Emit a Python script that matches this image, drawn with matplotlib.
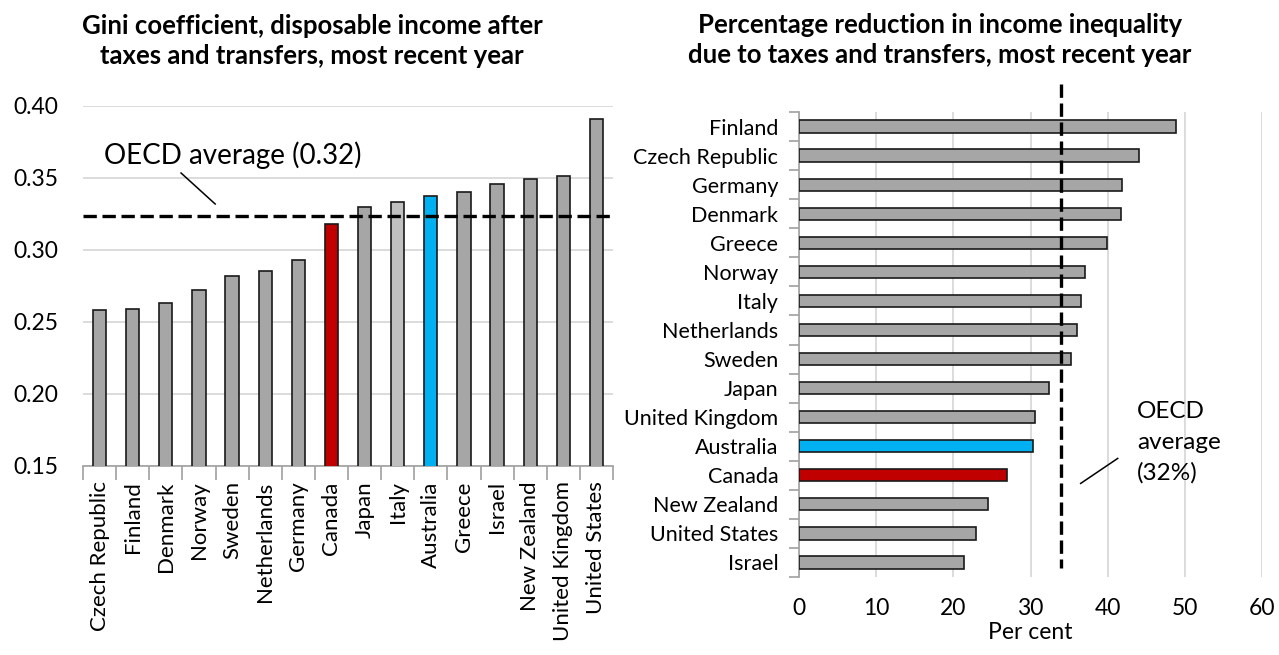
import matplotlib
matplotlib.use("Agg")
import matplotlib.pyplot as plt

plt.rcParams['font.family'] = ['Lato', 'DejaVu Sans']

# left panel: Gini coefficient after taxes and transfers
gini_countries = ['Czech Republic', 'Finland', 'Denmark', 'Norway', 'Sweden',
                  'Netherlands', 'Germany', 'Canada', 'Japan', 'Italy',
                  'Australia', 'Greece', 'Israel', 'New Zealand',
                  'United Kingdom', 'United States']
gini_values = [0.258, 0.259, 0.263, 0.272, 0.282, 0.285, 0.293, 0.318,
               0.330, 0.333, 0.337, 0.340, 0.346, 0.349, 0.351, 0.391]
oecd_gini = 0.3235

# right panel: % reduction in inequality
red_countries = ['Finland', 'Czech Republic', 'Germany', 'Denmark', 'Greece',
                 'Norway', 'Italy', 'Netherlands', 'Sweden', 'Japan',
                 'United Kingdom', 'Australia', 'Canada', 'New Zealand',
                 'United States', 'Israel']
red_values = [48.8, 44.0, 41.9, 41.7, 39.9, 37.0, 36.5, 36.0, 35.2, 32.4,
              30.6, 30.3, 27.0, 24.5, 22.9, 21.4]
oecd_red = 33.9

GRAY = '#a6a6a6'
LIGHT = '#c0c0c0'
RED = '#c00000'
BLUE = '#00b0f0'
GRID = '#d9d9d9'
AXIS = '#a0a0a0'


def color_for(name, light_ok=True):
    if name == 'Canada':
        return RED
    if name == 'Australia':
        return BLUE
    if name == 'Italy' and light_ok:
        return LIGHT
    return GRAY


fig = plt.figure(figsize=(12.79, 6.55), dpi=100)

# ---- left chart
ax1 = fig.add_axes([83 / 1279, 1 - 466 / 655, 530 / 1279, 360.3 / 655])
x = range(len(gini_countries))
ax1.bar(x, gini_values, width=0.4, bottom=0,
        color=[color_for(c) for c in gini_countries],
        edgecolor='#1a1a1a', linewidth=1.2, zorder=3)
ax1.set_xlim(-0.5, len(gini_countries) - 0.5)
ax1.set_ylim(0.15, 0.40)
ax1.set_yticks([0.15, 0.20, 0.25, 0.30, 0.35, 0.40])
ax1.set_yticklabels(['%.2f' % v for v in ax1.get_yticks()], fontsize=16.5)
ax1.yaxis.grid(True, color=GRID, linewidth=1.3, zorder=0)
ax1.tick_params(axis='y', length=0, pad=18)
ax1.set_xticks(list(x))
ax1.set_xticklabels(gini_countries, rotation=90, fontsize=16)
ax1.tick_params(axis='x', which='major', length=0, pad=11)
ax1.set_xticks([i - 0.5 for i in range(len(gini_countries) + 1)], minor=True)
ax1.tick_params(axis='x', which='minor', length=10, color=AXIS, width=1.2)
for s in ['top', 'right', 'left']:
    ax1.spines[s].set_visible(False)
ax1.spines['bottom'].set_color(AXIS)
ax1.spines['bottom'].set_linewidth(1.2)
ax1.plot([-0.5, len(gini_countries) - 0.6], [oecd_gini, oecd_gini], color='black',
         linewidth=2.4, linestyle=(0, (4, 1.7)), zorder=4)
ax1.text(0.13, 0.366, 'OECD average (0.32)', fontsize=20, va='center', ha='left')
ax1.plot([2.46, 3.49], [0.3533, 0.3318], color='black', linewidth=1.1)

fig.text(312 / 1279, 1 - 41 / 655,
         'Gini coefficient, disposable income after\ntaxes and transfers, most recent year',
         ha='center', va='center', fontsize=18.5, fontweight='bold', linespacing=1.3)

# ---- right chart
ax2 = fig.add_axes([799 / 1279, 1 - 577 / 655, 463 / 1279, 465 / 655])
y = range(len(red_countries))
ax2.barh(y, red_values, height=0.42,
         color=[color_for(c, False) for c in red_countries],
         edgecolor='#1a1a1a', linewidth=1.2, zorder=3)
ax2.set_ylim(len(red_countries) - 0.5, -0.5)
ax2.set_xlim(0, 60)
ax2.set_xticks([0, 10, 20, 30, 40, 50, 60])
ax2.set_xticklabels(['0', '10', '20', '30', '40', '50', '60'], fontsize=16.5)
ax2.xaxis.grid(True, color=GRID, linewidth=1.3, zorder=0)
ax2.tick_params(axis='x', length=0, pad=15)
ax2.set_yticks(list(y))
ax2.set_yticklabels(red_countries, fontsize=15.5)
ax2.tick_params(axis='y', which='major', length=0, pad=15)
ax2.set_yticks([i - 0.5 for i in range(len(red_countries) + 1)], minor=True)
ax2.tick_params(axis='y', which='minor', length=7, color=AXIS, width=1.2)
for s in ['top', 'right', 'bottom']:
    ax2.spines[s].set_visible(False)
ax2.spines['left'].set_color(AXIS)
ax2.spines['left'].set_linewidth(1.2)
ax2.set_xlabel('Per cent', fontsize=16.5, labelpad=2)
ax2.plot([oecd_red, oecd_red], [-1.48, 15.2], color='black', linewidth=2.4,
         linestyle=(0, (4, 1.7)), zorder=4, clip_on=False)
ax2.text(43.8, 9.45, 'OECD\naverage\n(32%)', fontsize=17.5, va='top', ha='left',
         linespacing=1.55)
ax2.plot([41.3, 36.5], [11.42, 12.28], color='black', linewidth=1.1)

fig.text(940 / 1279, 1 - 40 / 655,
         'Percentage reduction in income inequality\ndue to taxes and transfers, most recent year',
         ha='center', va='center', fontsize=18.5, fontweight='bold', linespacing=1.3)

fig.savefig('out.png', dpi=100)
